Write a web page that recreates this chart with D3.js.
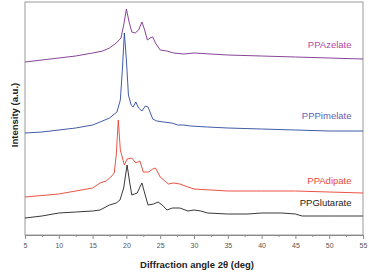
<!DOCTYPE html>
<html>
<head>
<meta charset="utf-8">
<script src="https://cdn.jsdelivr.net/npm/d3@7"></script>
<style>
  body { margin: 0; background: #fff; }
  svg { display: block; font-family: "Liberation Sans", Arial, sans-serif; }
</style>
</head>
<body>
<div id="chart"></div>
<script>
// tick labels on the 2-theta axis
var xTicks = [5, 10, 15, 20, 25, 30, 35, 40, 45, 50, 55];
var xMinorTicks = [7.5, 12.5, 17.5, 22.5, 27.5, 32.5, 37.5, 42.5, 47.5, 52.5];

// series names
var seriesNames = ["PPAzelate", "PPPimelate", "PPAdipate", "PPGlutarate"];

// PPGlutarate (black), angle / intensity
var glutarateAngle = [5, 7.5, 10, 12.5, 15, 16.1, 17.5, 18.5, 19.05, 19.6, 20.1, 20.5, 20.8, 21.6, 22.0, 22.3, 22.7, 23.2, 24.0, 24.7, 25.3, 26, 26.8, 27.9, 29.1, 30, 31, 32, 35, 38, 40, 43, 45, 46, 50, 55];
var glutarateInt = [17, 19, 22, 23, 24, 25, 30, 32, 35, 47, 70, 52, 40, 42, 48, 52, 42, 30, 31, 33, 30, 25, 27, 27, 24, 25, 24, 22, 21, 21, 22, 22, 21, 19, 19, 19];

// PPAdipate (red)
var adipateAngle = [5, 10, 15, 16.1, 17, 17.7, 18.2, 18.5, 18.8, 19.1, 19.7, 20.1, 20.8, 21.4, 22.0, 22.5, 23.3, 23.9, 24.3, 25.0, 26.2, 27.0, 27.9, 29.1, 30, 35, 40, 45, 50, 55];
var adipateInt = [38, 41, 47, 52, 54, 58, 62, 80, 115, 85, 70, 76, 77, 72, 74, 63, 63, 66, 67, 58, 51, 52, 51, 48, 46, 44, 44, 44, 43, 42];

// PPPimelate (blue)
var pimelateAngle = [5, 7.5, 10, 12.5, 15, 16.1, 17.5, 18.6, 19.1, 19.4, 19.7, 20.0, 20.3, 20.7, 21.0, 21.4, 21.8, 22.3, 22.8, 23.2, 23.9, 24.5, 25.5, 26.7, 27.6, 28.5, 29.5, 32, 35, 40, 45, 50, 55];
var pimelateInt = [102, 103, 105, 107, 110, 113, 117, 123, 135, 165, 202, 175, 140, 130, 128, 133, 127, 124, 129, 128, 116, 114, 113, 112, 110, 110, 109, 108, 107, 106, 105, 104, 104];

// PPAzelate (purple)
var azelateAngle = [5, 7.5, 10, 12.5, 15, 16.5, 17.5, 18.5, 19.2, 19.6, 20.0, 20.4, 20.8, 21.3, 21.8, 22.3, 22.7, 23.1, 23.5, 23.9, 24.3, 25, 26, 27, 28.5, 30, 35, 40, 45, 50, 55];
var azelateInt = [173, 175, 177, 179, 182, 184, 187, 192, 197, 210, 226, 213, 203, 202, 205, 213, 205, 195, 197, 198, 192, 185, 184, 182, 181, 182, 180, 179, 178, 177, 176];

var series = [
  {name: seriesNames[0], angle: azelateAngle, val: azelateInt, line: "#7b2f8c", text: "#b24aa2", labelAt: 190},
  {name: seriesNames[1], angle: pimelateAngle, val: pimelateInt, line: "#2b4a9e", text: "#6262b4", labelAt: 119},
  {name: seriesNames[2], angle: adipateAngle, val: adipateInt, line: "#e8402f", text: "#e8473a", labelAt: 54},
  {name: seriesNames[3], angle: glutarateAngle, val: glutarateInt, line: "#222222", text: "#222222", labelAt: 32}
];

var svgWidth = 369, svgHeight = 274;
var margin = {top: 2, right: 6, bottom: 39, left: 25};
var width = svgWidth - margin.left - margin.right;
var height = svgHeight - margin.top - margin.bottom;

var svg = d3.select("#chart").append("svg")
  .attr("width", svgWidth)
  .attr("height", svgHeight);

var g = svg.append("g")
  .attr("transform", "translate(" + margin.left + "," + margin.top + ")");

var x = d3.scaleLinear().domain([5, 55]).range([0, width]);
var y = d3.scaleLinear().domain([0, 233]).range([height, 0]);

// frame
g.append("rect")
  .attr("width", width)
  .attr("height", height)
  .attr("fill", "none")
  .attr("stroke", "#9a9a9a")
  .attr("stroke-width", 1);

// bottom axis, major + minor ticks
var xAxis = g.append("g")
  .attr("transform", "translate(0," + height + ")")
  .call(d3.axisBottom(x).tickValues(xTicks).tickSize(4).tickPadding(4).tickFormat(d3.format("d")));
g.append("g")
  .attr("transform", "translate(0," + height + ")")
  .call(d3.axisBottom(x).tickValues(xMinorTicks).tickSize(2).tickFormat(""))
  .select(".domain").remove();
g.selectAll(".tick line").attr("stroke", "#8a8a8a");
xAxis.select(".domain").attr("stroke", "#8a8a8a");
xAxis.selectAll(".tick text")
  .attr("fill", "#555")
  .style("font-size", "7px");

var line = d3.line()
  .x(function(d) { return x(d[0]); })
  .y(function(d) { return y(d[1]); });

series.forEach(function(s) {
  var pts = s.angle.map(function(a, i) { return [a, s.val[i]]; });
  g.append("path")
    .datum(pts)
    .attr("fill", "none")
    .attr("stroke", s.line)
    .attr("stroke-width", 0.9)
    .attr("d", line);
  g.append("text")
    .attr("x", x(53.3))
    .attr("y", y(s.labelAt))
    .attr("text-anchor", "end")
    .attr("dy", "0.35em")
    .attr("fill", s.text)
    .style("font-size", "9.5px")
    .text(s.name);
});

// axis titles
svg.append("text")
  .attr("x", 197)
  .attr("y", 268)
  .attr("text-anchor", "middle")
  .style("font-size", "9.5px")
  .style("font-weight", "bold")
  .attr("fill", "#222")
  .text("Diffraction angle 2θ (deg)");

svg.append("text")
  .attr("transform", "translate(18,115) rotate(-90)")
  .attr("text-anchor", "middle")
  .style("font-size", "9.5px")
  .style("font-weight", "bold")
  .attr("fill", "#222")
  .text("Intensity (a.u.)");
</script>
</body>
</html>
